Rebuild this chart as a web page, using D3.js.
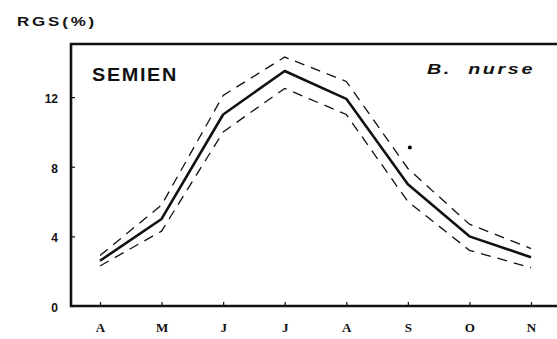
<!DOCTYPE html>
<html>
<head>
<meta charset="utf-8">
<script src="https://cdn.jsdelivr.net/npm/d3@7"></script>
<style>
  body { margin: 0; background: #fff; }
  text { font-family: "Liberation Sans", Arial, sans-serif; fill: #111; }
</style>
</head>
<body>
<div id="chart"></div>
<script>
// data
const months = ["A", "M", "J", "J ", "A ", "S", "O", "N"];
const mean  = [2.6, 5.0, 11.0, 13.5, 11.9, 7.0, 4.0, 2.8];
const upper = [2.9, 5.8, 12.1, 14.3, 12.9, 7.9, 4.7, 3.3];
const lower = [2.3, 4.3, 10.0, 12.5, 11.0, 6.0, 3.2, 2.2];
const outlier = [{month: "S", value: 9.1}];
const yTicks = [0, 4, 8, 12];

const margin = {top: 44, right: 0, bottom: 33, left: 71};
const width = 557 - margin.left - margin.right;
const height = 339 - margin.top - margin.bottom;

var svg = d3.select("#chart")
    .append("svg")
    .attr("width", 557)
    .attr("height", 339);

var g = svg.append("g")
    .attr("transform", "translate(" + margin.left + "," + margin.top + ")");

var x = d3.scalePoint()
    .domain(months)
    .range([29, 460]);

var y = d3.scaleLinear()
    .domain([0, 15.05])
    .range([height, 0]);

// axes
var xAxis = g.append("g")
    .attr("transform", "translate(0," + height + ")")
    .call(d3.axisBottom(x).tickSizeInner(-4).tickSizeOuter(0).tickPadding(17));
var yAxis = g.append("g")
    .call(d3.axisLeft(y).tickValues(yTicks).tickSizeInner(-4).tickSizeOuter(0).tickPadding(13));

[xAxis, yAxis].forEach(function(a) {
  a.select(".domain").remove();
  a.selectAll(".tick line").attr("stroke", "#111").attr("stroke-width", 1.2);
  a.selectAll(".tick text")
    .style("font-weight", "bold")
    .attr("fill", "#111");
});
xAxis.selectAll(".tick text")
    .text(d => d.trim())
    .style("font-size", "13px")
    .style("font-family", "'Liberation Serif', serif");
yAxis.selectAll(".tick text")
    .style("font-size", "12px")
    .style("font-family", "'Liberation Sans', sans-serif")
    .attr("dy", "0.45em");

// frame: left, bottom and top lines
g.append("path")
    .attr("d", "M" + (width + 2) + ",0H0V" + height + "H" + (width + 2))
    .attr("fill", "none")
    .attr("stroke", "#111")
    .attr("stroke-width", 2.6);

var line = d3.line()
    .x((d, i) => x(months[i]))
    .y(d => y(d));

g.append("path")
    .datum(upper)
    .attr("d", line)
    .attr("fill", "none")
    .attr("stroke", "#111")
    .attr("stroke-width", 1.3)
    .attr("stroke-dasharray", "10,7");

g.append("path")
    .datum(lower)
    .attr("d", line)
    .attr("fill", "none")
    .attr("stroke", "#111")
    .attr("stroke-width", 1.3)
    .attr("stroke-dasharray", "10,7");

g.append("path")
    .datum(mean)
    .attr("d", line)
    .attr("fill", "none")
    .attr("stroke", "#111")
    .attr("stroke-width", 2.6)
    .attr("stroke-linejoin", "round");

g.selectAll(".dot")
    .data(outlier)
    .enter().append("circle")
    .attr("cx", d => x(d.month) + 2)
    .attr("cy", d => y(d.value))
    .attr("r", 2);

// labels (wide lettering, stretched to the original width)
svg.append("text")
    .attr("x", 17)
    .attr("y", 26)
    .attr("textLength", 80)
    .attr("lengthAdjust", "spacingAndGlyphs")
    .style("font-size", "12px")
    .style("font-weight", "bold")
    .style("letter-spacing", "2px")
    .text("RGS(%)");

svg.append("text")
    .attr("x", 92)
    .attr("y", 81)
    .attr("textLength", 86)
    .attr("lengthAdjust", "spacingAndGlyphs")
    .style("font-size", "18px")
    .style("font-weight", "bold")
    .style("letter-spacing", "1.5px")
    .text("SEMIEN");

svg.append("text")
    .attr("x", 427)
    .attr("y", 74)
    .attr("textLength", 108)
    .attr("lengthAdjust", "spacingAndGlyphs")
    .style("font-size", "15px")
    .style("font-weight", "bold")
    .style("font-style", "italic")
    .style("letter-spacing", "2px")
    .attr("xml:space", "preserve")
    .text("B.  nurse");
</script>
</body>
</html>
